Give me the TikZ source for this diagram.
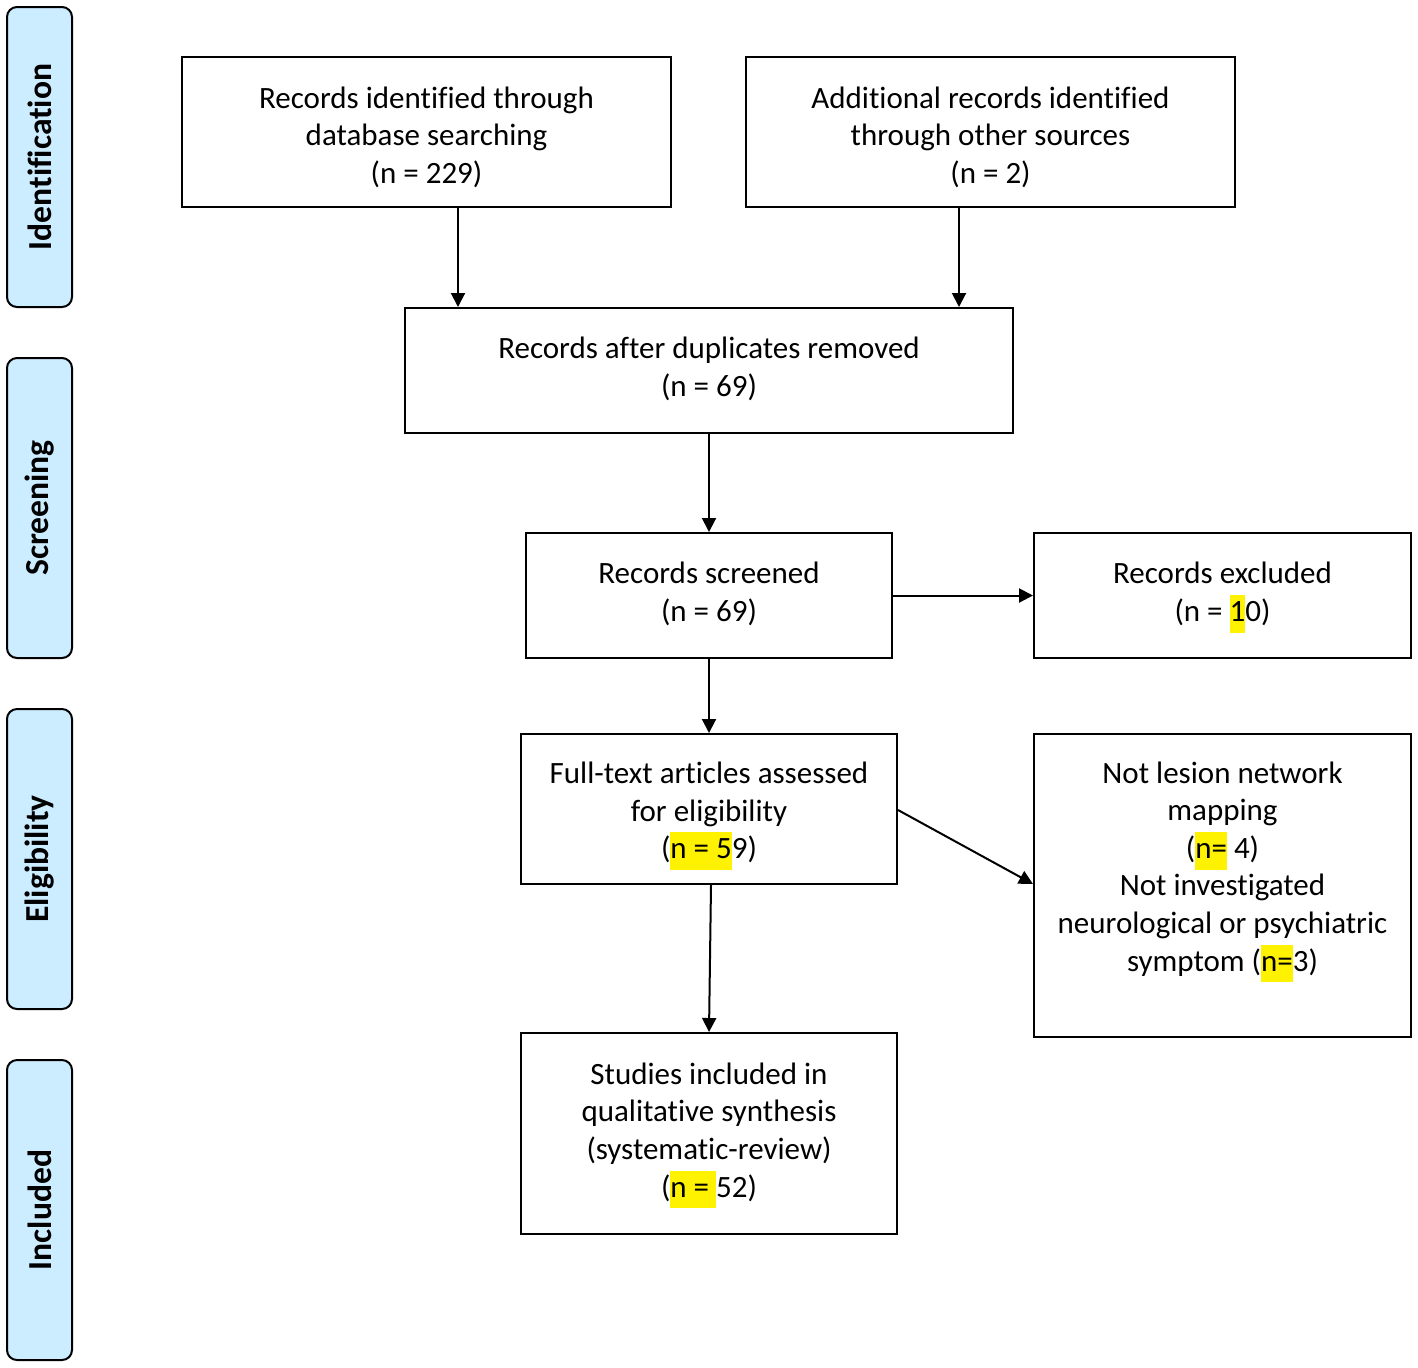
\documentclass[tikz,border=0pt]{standalone}
\usepackage{fontspec}
\setmainfont[Ligatures=NoCommon]{Carlito}
\usetikzlibrary{arrows.meta}
\definecolor{sidefill}{HTML}{CCECFF}
\newcommand{\hl}[1]{{\setlength{\fboxsep}{0pt}\colorbox{yellow}{\strut #1}}}
\tikzset{
  box/.style={draw=black, line width=1pt, rectangle, inner sep=0pt},
  txt/.style={inner sep=0pt, align=center, font=\fontsize{15.5}{18.8}\selectfont},
  side/.style={draw=black, line width=1pt, fill=sidefill, rounded corners=5pt,
    minimum width=32.5pt, minimum height=150pt, inner sep=0pt},
  sidetxt/.style={rotate=90, font=\fontsize{16.8}{20}\selectfont\bfseries},
  arr/.style={line width=1pt, -{Triangle[length=7pt,width=7pt]}}
}
\begin{document}
\begin{tikzpicture}[x=0.5pt,y=-0.5pt]
\useasboundingbox (0,0) rectangle (1418,1367);
% side labels
\node[side] (s1) at (39.5,157) {};
\node[sidetxt] at (s1) {Identification};
\node[side] (s2) at (39.5,508) {};
\node[sidetxt] at (s2) {Screening};
\node[side] (s3) at (39.5,859) {};
\node[sidetxt] at (s3) {Eligibility};
\node[side] (s4) at (39.5,1210) {};
\node[sidetxt] at (s4) {Included};
% boxes
\node[box, minimum width=244.5pt, minimum height=75pt] (A) at (426.5,132) {};
\node[txt] (At) at (426.5,137) {Records identified through\\database searching\\(n = 229)};
\node[box, minimum width=244.5pt, minimum height=75pt] (B) at (990.5,132) {};
\node[txt] (Bt) at (990.5,137) {Additional records identified\\through other sources\\(n = 2)};
\node[box, minimum width=304pt, minimum height=62.5pt] (C) at (709,370.5) {};
\node[txt] (Ct) at (709,369) {Records after duplicates removed\\(n = 69)};
\node[box, minimum width=183pt, minimum height=62.5pt] (D) at (709,595.5) {};
\node[txt] (Dt) at (709,594) {Records screened\\(n = 69)};
\node[box, minimum width=188.5pt, minimum height=62.5pt] (E) at (1222.5,595.5) {};
\node[txt] (Et) at (1222.5,597.5) {Records excluded\\(n = \hl{1}0)};
\node[box, minimum width=188pt, minimum height=75pt] (F) at (709,809) {};
\node[txt] (Ft) at (709,816) {Full-text articles assessed\\for eligibility\\(\hl{n = 5}9)};
\node[box, minimum width=188.5pt, minimum height=151.5pt] (G) at (1222.5,885.5) {};
\node[txt] (Gt) at (1222.5,872) {Not lesion network\\mapping\\(\hl{n=} 4)\\Not investigated\\neurological or psychiatric\\symptom (\hl{n=}3)};
\node[box, minimum width=188pt, minimum height=100.5pt] (H) at (709,1133.5) {};
\node[txt] (Ht) at (709,1135.5) {Studies included in\\qualitative synthesis\\(systematic-review)\\(\hl{n = }52)};
% arrows
\draw[arr] (A.south -| 458,0) -- (C.north -| 458,0);
\draw[arr] (B.south -| 959,0) -- (C.north -| 959,0);
\draw[arr] (C) -- (D);
\draw[arr] (D) -- (E);
\draw[arr] (D) -- (F);
\draw[arr] (F.east |- 0,810) -- (G.west |- 0,884);
\draw[arr] (F.south -| 711,0) -- (H.north -| 709,0);
\end{tikzpicture}
\end{document}
